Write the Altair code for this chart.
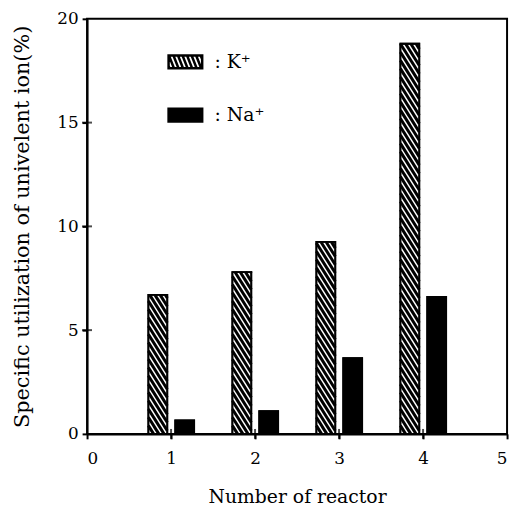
import altair as alt
import pandas as pd

# ---- data ----
reactors = [1, 2, 3, 4]
k_values = [6.7, 7.8, 9.25, 18.8]
na_values = [0.65, 1.1, 3.65, 6.6]
ions = ["K⁺", "Na⁺"]
x_ticks = [0, 1, 2, 3, 4, 5]
y_ticks = [0, 5, 10, 15, 20]

df = pd.DataFrame({
    "reactor": reactors * 2,
    "ion": [ions[0]] * len(reactors) + [ions[1]] * len(reactors),
    "value": k_values + na_values,
})

# ---- styling ----
FONT = "DejaVu Serif"
BW = 0.225          # bar width in x units
G = 0.40            # hatch spacing (y units)
D = 1.45            # hatch drop across bar (y units)

x_scale = alt.Scale(domain=[0, 5], nice=False)
y_scale = alt.Scale(domain=[0, 20], nice=False)
x_axis = alt.Axis(values=x_ticks, format="d", ticks=True, tickSize=5, tickWidth=2,
                  tickColor="black", labelPadding=12,
                  labelFont=FONT, labelFontSize=17, labelColor="black",
                  domainColor="black", domainWidth=2, grid=False,
                  titleFont=FONT, titleFontSize=19, titleFontWeight="normal",
                  titleColor="black", titlePadding=21)
y_axis = alt.Axis(values=y_ticks, format="d", ticks=True, tickSize=5, tickWidth=2,
                  tickColor="black", labelPadding=4,
                  labelFont=FONT, labelFontSize=17, labelColor="black",
                  domainColor="black", domainWidth=2, grid=False,
                  titleFont=FONT, titleFontSize=21, titleFontWeight="normal",
                  titleColor="black", titlePadding=25)
XT = "Number of reactor"
YT = "Specific utilization of univelent ion(%)"


def X(f):
    return alt.X(f, type="quantitative", scale=x_scale, axis=x_axis, title=XT)


def Y(f):
    return alt.Y(f, type="quantitative", scale=y_scale, axis=y_axis, title=YT)


# legend symbol paths
hy = 0.38
parts = ["M-1,%.2fH1V%.2fH-1Z" % (-hy, hy)]
step = 0.27
a = -1.25
while a < 1.0:
    x1, y1 = a, -hy
    x2, y2 = a + 0.3, hy
    if x1 < -1:
        y1 = -hy + (-1 - x1) / 0.3 * (2 * hy)
        x1 = -1
    if x2 > 1:
        y2 = -hy + (1 - a) / 0.3 * (2 * hy)
        x2 = 1
    parts.append("M%.3f,%.3fL%.3f,%.3f" % (x1, y1, x2, y2))
    a += step
hatch_path = "".join(parts)
rect_path = "M-1,%.2fH1V%.2fH-1Z" % (-hy, hy)

legend = alt.Legend(title=None, orient="none", legendX=81, legendY=25, padding=0,
                    rowPadding=24, labelFont=FONT, labelFontSize=19,
                    labelColor="black", labelOffset=11, symbolSize=1156,
                    symbolStrokeColor="black", symbolStrokeWidth=2.5,
                    symbolOpacity=1, labelExpr="': ' + datum.label")
fill_scale = alt.Scale(domain=ions, range=["white", "black"])
shape_scale = alt.Scale(domain=ions, range=[hatch_path, rect_path])
stroke_scale = alt.Scale(domain=ions, range=["black", "black"])

base = alt.Chart(df).transform_calculate(
    x0=f"datum.reactor + (datum.ion == '{ions[0]}' ? -0.27 : 0.05)",
    x1=f"datum.x0 + {BW}",
    z="0",
)

bars = base.mark_bar(strokeWidth=1.8).encode(
    x=X("x0"), x2="x1:Q", y=Y("value"), y2="z:Q",
    fill=alt.Fill("ion:N", scale=fill_scale, legend=legend),
    stroke=alt.Stroke("ion:N", scale=stroke_scale, legend=legend),
)

stripes = base.transform_filter(f"datum.ion == '{ions[0]}'").transform_calculate(
    k=f"sequence(0, ceil((datum.value + {D}) / {G}) + 1)"
).transform_flatten(["k"]).transform_calculate(
    yl=f"datum.k * {G}",
    t0=f"max(0, (datum.yl - datum.value) / {D})",
    t1=f"min(1, datum.yl / {D})",
    sx=f"datum.x0 + {BW} * datum.t0",
    ex=f"datum.x0 + {BW} * datum.t1",
    sy=f"datum.yl - {D} * datum.t0",
    ey=f"datum.yl - {D} * datum.t1",
).transform_filter("datum.t1 > datum.t0").mark_rule(
    color="black", strokeWidth=3
).encode(x=X("sx"), x2="ex:Q", y=Y("sy"), y2="ey:Q")

outline = base.mark_bar(fill=None, fillOpacity=0, stroke="black", strokeWidth=1.8).encode(
    x=X("x0"), x2="x1:Q", y=Y("value"), y2="z:Q",
)

pts = base.mark_point(filled=True, size=0, opacity=0).encode(
    x=X("x0"), y=Y("z"),
    fill=alt.Fill("ion:N", scale=fill_scale, legend=legend),
    shape=alt.Shape("ion:N", scale=shape_scale, legend=legend),
    stroke=alt.Stroke("ion:N", scale=stroke_scale, legend=legend),
)

# inner halves of the tick marks, built from the tick lists
one = base.transform_aggregate(n="count()")
xticks = one.transform_calculate(v=str(x_ticks[1:-1]), w="0").transform_flatten(["v"]).mark_tick(
    orient="vertical", size=10, thickness=2, color="black"
).encode(x=X("v"), y=Y("w"))
yticks = one.transform_calculate(v=str(y_ticks[1:-1]), w="0").transform_flatten(["v"]).mark_tick(
    orient="horizontal", size=10, thickness=2, color="black"
).encode(y=Y("v"), x=X("w"))

chart = alt.layer(bars, stripes, outline, pts, xticks, yticks).properties(
    width=425, height=420, background="white",
    autosize=alt.AutoSizeParams(type="none"),
    padding={"left": 80, "top": 8, "right": 5, "bottom": 70},
).configure_view(stroke="black", strokeWidth=2)

chart.save("out.html", embed_options={"renderer": "svg", "actions": False})
